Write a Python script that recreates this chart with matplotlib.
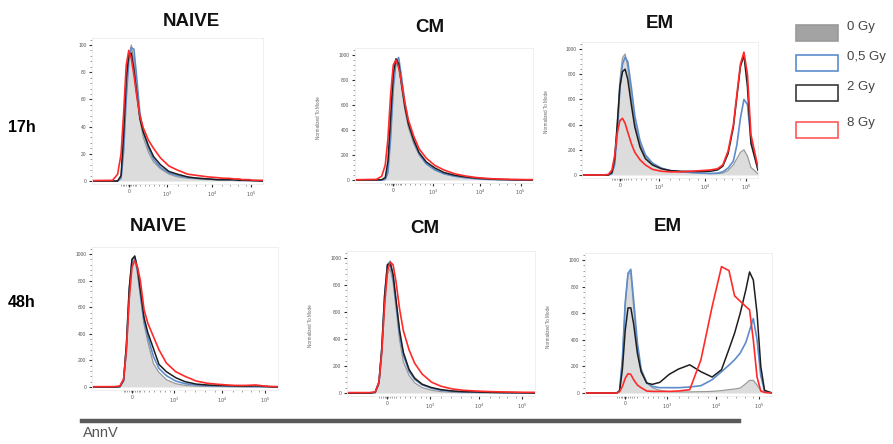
import numpy as np
import matplotlib
matplotlib.use("Agg")
import matplotlib.pyplot as plt
from matplotlib.patches import Rectangle
from matplotlib.ticker import MultipleLocator

plt.rcParams['font.family'] = ['Liberation Sans', 'DejaVu Sans']

# posicion en el eje x (fraccion del eje, escala biexponencial de FlowJo)
x_pos = [0.00, 0.12, 0.15, 0.17, 0.185, 0.20, 0.215, 0.23, 0.245, 0.26, 0.28,
         0.30, 0.33, 0.36, 0.40, 0.45, 0.50, 0.56, 0.62, 0.68, 0.73, 0.77,
         0.80, 0.83, 0.86, 0.88, 0.90, 0.92, 0.94, 0.96, 1.00]

x_tick_pos = [0.215, 0.44, 0.70, 0.93]
x_tick_lab = ['0', r'$10^3$', r'$10^4$', r'$10^5$']
dosis = ['0 Gy', '0,5 Gy', '2 Gy', '8 Gy']

# NAIVE 17h (escala 0-100)
naive17_0 = [0, 0, 0, 3, 30, 70, 92, 100, 88, 70, 45, 32, 21, 14, 9, 5, 3, 2, 1.5, 1, 1, 0.5, 0.5, 0.5, 0.5, 0.5, 0.3, 0.3, 0.2, 0, 0]
naive17_05 = [0, 0, 0, 2, 22, 60, 88, 98, 97, 78, 50, 36, 24, 16, 10, 6, 4, 2.5, 2, 1.5, 1, 1, 1, 0.5, 0.5, 0.5, 0.5, 0.3, 0.3, 0.2, 0]
naive17_2 = [0, 0, 0, 4, 35, 75, 93, 94, 82, 66, 46, 36, 26, 18, 12, 7, 5, 3, 2, 1.5, 1, 1, 1, 1, 0.5, 0.5, 0.5, 0.5, 0.3, 0.3, 0]
naive17_8 = [0.3, 0.5, 5, 20, 50, 85, 96, 90, 78, 64, 48, 39, 30, 24, 17, 11, 8, 5, 4, 3, 2.5, 2, 2, 1.5, 1.5, 1, 1, 1, 0.5, 0.5, 0.5]

# CM 17h
cm17_0 = [0, 0, 0, 5, 80, 400, 800, 960, 930, 760, 560, 420, 290, 200, 130, 80, 50, 30, 20, 12, 8, 5, 4, 3, 2, 2, 1, 1, 1, 0, 0]
cm17_05 = [0, 0, 0, 5, 60, 330, 730, 940, 980, 840, 620, 460, 310, 210, 130, 80, 50, 30, 18, 10, 6, 4, 3, 2, 2, 1, 1, 1, 0, 0, 0]
cm17_2 = [0, 0, 2, 20, 150, 500, 850, 970, 930, 780, 590, 450, 320, 220, 145, 95, 60, 38, 25, 15, 10, 7, 5, 4, 3, 2, 2, 1, 1, 1, 0]
cm17_8 = [2, 5, 30, 120, 330, 680, 920, 960, 900, 790, 620, 480, 350, 250, 175, 115, 80, 50, 32, 20, 14, 10, 8, 7, 6, 5, 5, 4, 4, 3, 3]

# EM 17h
em17_0 = [0, 0, 0, 15, 100, 380, 750, 930, 960, 860, 620, 420, 240, 150, 90, 55, 35, 25, 20, 15, 12, 12, 15, 35, 80, 130, 180, 200, 150, 60, 10]
em17_05 = [0, 0, 0, 10, 80, 320, 680, 880, 935, 900, 700, 470, 270, 160, 95, 55, 35, 25, 20, 15, 12, 15, 25, 55, 110, 240, 450, 600, 560, 280, 40]
em17_2 = [0, 0, 0, 20, 120, 400, 700, 820, 840, 760, 560, 380, 220, 130, 80, 50, 35, 30, 28, 28, 30, 40, 70, 170, 380, 620, 860, 950, 700, 250, 40]
em17_8 = [0, 0, 5, 40, 150, 330, 430, 450, 410, 340, 250, 180, 120, 80, 45, 30, 25, 25, 30, 35, 40, 50, 80, 190, 400, 640, 880, 975, 800, 320, 60]

# NAIVE 48h
naive48_0 = [0, 0, 2, 40, 250, 650, 920, 970, 850, 680, 470, 340, 176, 110, 55, 25, 12, 6, 4, 3, 2, 2, 2, 1, 1, 1, 1, 0, 0, 0, 0]
naive48_05 = [0, 0, 2, 50, 300, 720, 960, 975, 870, 700, 490, 380, 230, 140, 85, 45, 25, 15, 10, 8, 6, 5, 4, 4, 4, 3, 3, 2, 2, 1, 0]
naive48_2 = [0, 0, 3, 55, 320, 740, 960, 985, 890, 730, 520, 410, 290, 170, 115, 70, 40, 22, 15, 12, 10, 8, 8, 7, 8, 10, 8, 5, 4, 2, 0]
naive48_8 = [2, 3, 8, 60, 280, 660, 900, 950, 900, 800, 580, 480, 380, 280, 180, 115, 80, 45, 28, 20, 15, 12, 12, 12, 14, 15, 12, 8, 6, 4, 3]

# CM 48h
cm48_0 = [0, 0, 0, 60, 280, 650, 880, 920, 820, 640, 390, 230, 130, 75, 40, 20, 10, 5, 3, 2, 1, 1, 1, 1, 0, 0, 0, 0, 0, 0, 0]
cm48_05 = [0, 0, 5, 80, 330, 720, 950, 975, 860, 680, 430, 280, 160, 100, 60, 35, 20, 12, 8, 6, 5, 4, 3, 3, 2, 2, 2, 1, 1, 0, 0]
cm48_2 = [0, 0, 5, 80, 330, 720, 950, 960, 880, 700, 460, 300, 175, 110, 65, 40, 25, 15, 10, 8, 6, 5, 4, 3, 3, 2, 2, 2, 1, 1, 0]
cm48_8 = [3, 3, 8, 80, 300, 650, 900, 970, 950, 830, 620, 460, 320, 220, 140, 80, 50, 30, 20, 15, 12, 10, 9, 8, 7, 7, 6, 6, 5, 5, 5]

# EM 48h
em48_0 = [0, 0, 0, 0, 20, 250, 650, 900, 900, 650, 330, 170, 80, 40, 20, 10, 8, 8, 10, 12, 18, 25, 30, 37, 70, 95, 95, 60, 20, 3, 0]
em48_05 = [0, 0, 0, 0, 20, 260, 680, 900, 930, 700, 380, 180, 75, 50, 40, 40, 40, 45, 55, 100, 160, 210, 250, 300, 380, 470, 560, 400, 130, 15, 0]
em48_2 = [0, 0, 0, 0, 15, 180, 470, 640, 640, 520, 300, 160, 75, 65, 80, 140, 180, 212, 160, 120, 175, 330, 450, 600, 775, 910, 850, 600, 200, 20, 0]
em48_8 = [0, 0, 0, 0, 10, 50, 110, 145, 140, 100, 60, 40, 15, 12, 12, 12, 15, 25, 250, 650, 950, 920, 730, 690, 650, 625, 400, 120, 15, 5, 0]

W, H = 893, 444
fig = plt.figure(figsize=(W / 100, H / 100), dpi=100)

c_gray_fill = '#dcdcdc'
c_gray_edge = '#9a9a9a'
c_blue = '#5d8ccc'
c_black = '#1e1e1e'
c_red = '#ff2a2a'


def panel(left, right, y0, ytop, ymax, series, ylabel=True):
    ppu = (y0 - ytop) / ymax
    top_px = ytop - 0.055 * ymax * ppu
    bot_px = y0 + 0.02 * ymax * ppu
    ax = fig.add_axes([left / W, 1 - bot_px / H, (right - left) / W, (bot_px - top_px) / H])
    ax.set_xlim(0, 1)
    ax.set_ylim(-0.02 * ymax, 1.055 * ymax)

    g, b, k, r = series
    ax.fill_between(x_pos, g, 0, color=c_gray_fill, lw=0)
    ax.plot(x_pos, g, color=c_gray_edge, lw=0.9)
    ax.plot(x_pos, b, color=c_blue, lw=1.2)
    ax.plot(x_pos, k, color=c_black, lw=1.1)
    ax.plot(x_pos, r, color=c_red, lw=1.2)

    for s in ax.spines.values():
        s.set_color('#ececec')
        s.set_linewidth(0.6)
    ax.set_xticks(x_tick_pos)
    ax.set_xticklabels(x_tick_lab)
    minor = list(np.linspace(0.17, 0.26, 10)) + list(np.linspace(0.28, 0.42, 6)) + \
        list(np.linspace(0.50, 0.66, 4)) + list(np.linspace(0.76, 0.90, 4))
    ax.set_xticks(minor, minor=True)
    step = ymax / 5
    ax.set_yticks(np.arange(0, ymax + 1, step))
    ax.set_yticklabels([str(int(v)) for v in np.arange(0, ymax + 1, step)])
    ax.yaxis.set_minor_locator(MultipleLocator(step / 5))
    ax.tick_params(which='major', length=2.5, width=0.8, color='#333333',
                   labelsize=3.5, labelcolor='#555555', pad=1.5)
    ax.tick_params(which='minor', length=1.5, width=0.5, color='#777777')
    if ylabel:
        fig.text((left - 36) / W, 1 - ((y0 + ytop) / 2) / H, 'Normalized To Mode',
                 rotation=90, fontsize=3.3, color='#666666', ha='center', va='center')
    return ax


panel(92, 263, 181, 45, 100, [naive17_0, naive17_05, naive17_2, naive17_8], ylabel=False)
panel(355, 533, 180, 55, 1000, [cm17_0, cm17_05, cm17_2, cm17_8])
panel(582, 758, 175, 49, 1000, [em17_0, em17_05, em17_2, em17_8])
panel(92, 278, 387, 254, 1000, [naive48_0, naive48_05, naive48_2, naive48_8], ylabel=False)
panel(347, 535, 393, 258, 1000, [cm48_0, cm48_05, cm48_2, cm48_8])
panel(585, 772, 393, 260, 1000, [em48_0, em48_05, em48_2, em48_8])

# titulos de las poblaciones
titulos = [('NAIVE', 191, 21), ('CM', 430, 27), ('EM', 660, 24),
           ('NAIVE', 158, 226), ('CM', 425, 228), ('EM', 668, 226)]
for t, px, py in titulos:
    fig.text(px / W, 1 - py / H, t, fontsize=13.5, fontweight='bold',
             ha='center', va='center', color='#111111')

fig.text(8 / W, 1 - 127 / H, '17h', fontsize=11.5, fontweight='bold', va='center')
fig.text(8 / W, 1 - 302 / H, '48h', fontsize=11.5, fontweight='bold', va='center')

# leyenda
estilos = [(c_gray_edge, '#a3a3a3'), (c_blue, 'white'), ('#3a3a3a', 'white'), ('#ff5a5a', 'white')]
leg_y = [25, 55, 85, 122]
txt_y = [27, 57, 87, 123]
for (ec, fc), yy, ty, lab in zip(estilos, leg_y, txt_y, dosis):
    fig.patches.append(Rectangle((796 / W, 1 - (yy + 16) / H), 42 / W, 16 / H,
                                 transform=fig.transFigure, facecolor=fc,
                                 edgecolor=ec, lw=1.2))
    fig.text(847 / W, 1 - ty / H, lab, fontsize=9.5, color='#444444', va='center')

# eje AnnV
fig.add_artist(plt.Line2D([82 / W, 739 / W], [1 - 421 / H, 1 - 421 / H],
                          transform=fig.transFigure, color='#5a5a5a', lw=3.2))
fig.text(83 / W, 1 - 433 / H, 'AnnV', fontsize=10.5, color='#555555', va='center')

fig.savefig('out.png', dpi=100)
